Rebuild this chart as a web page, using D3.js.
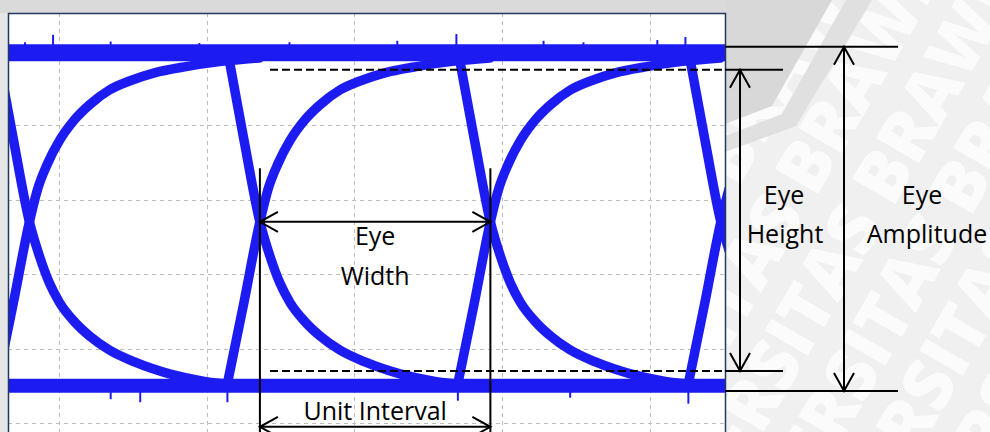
<!DOCTYPE html>
<html>
<head>
<meta charset="utf-8">
<script src="https://cdn.jsdelivr.net/npm/d3@7"></script>
<style>
  html, body { margin: 0; padding: 0; background: #fff; overflow: hidden; }
  svg { display: block; }
</style>
</head>
<body>
<svg id="chart" width="990" height="432"></svg>
<script>
// Eye diagram: time in picoseconds, amplitude in millivolts
const timeGrid = [0, 100, 200, 300, 400];
const voltGrid = [200, 100, 0, -100, -200, -300];
const timeDomain = [-34.5, 450.8];
const voltDomain = [250.3, -312];

const levelHigh = 197;
const levelLow = -250;
const crossings = [-20, 136, 292, 448];
const crossVolt = -30;

// Falling transition, offsets relative to the crossing point
const fallOffsets = [-21.7, -10.8, 0, 6.8, 13.5, 20.3, 30.5, 40.6, 54.1, 71.1, 94.8, 118.4, 142];
const fallVolts   = [197, 80, -30, -76, -112, -138, -164, -183, -202, -218, -234, -244, -249];

// Rising transition, offsets relative to the crossing point
const riseOffsets = [-22.3, -11, 0, 5.4, 12.2, 20.3, 30.5, 40.6, 54.1, 67.7, 84.6, 104.9, 128.6, 155.7];
const riseVolts   = [-250, -140, -30, 13, 48, 79, 107, 127, 147, 159, 170, 178, 185, 190];

// Noise spikes on the two logic levels [time, peak]
const highSpikes = [[-23, 211], [-4, 221], [35, 212], [95, 210], [156, 211], [229, 213],
                    [269, 222], [328, 213], [355, 211], [405, 214], [424, 218]];
const lowSpikes  = [[35, -268], [55, -272], [114, -272], [270, -270], [346, -266], [426, -274]];

// Measurement levels
const eyeTop = 174, eyeBottom = -230;
const ampTop = 205, ampBottom = -257;
const unitIntervalVolt = -305;
const markerTopVolt = 42;

const labelFont = "'Open Sans', 'DejaVu Sans', sans-serif";

const svg = d3.select("#chart");
const W = 990, H = 432;
const plot = { left: 8, top: 13, right: 725, bottom: 440 };

const x = d3.scaleLinear().domain(timeDomain).range([plot.left, plot.right]);
const y = d3.scaleLinear().domain(voltDomain).range([plot.top, 432]);

const defs = svg.append("defs");
defs.append("clipPath").attr("id", "plotClip")
  .append("rect")
  .attr("x", plot.left).attr("y", plot.top)
  .attr("width", plot.right - plot.left).attr("height", plot.bottom - plot.top);
const outside = defs.append("clipPath").attr("id", "outsideClip");
outside.append("rect").attr("x", plot.right).attr("y", 0).attr("width", W - plot.right).attr("height", H);
outside.append("rect").attr("x", 0).attr("y", plot.top).attr("width", plot.left).attr("height", H);
defs.append("filter").attr("id", "soft")
  .append("feGaussianBlur").attr("stdDeviation", 0.6);

// ---- page background and watermark ----
svg.append("rect").attr("x", 0).attr("y", 0).attr("width", W).attr("height", plot.top).attr("fill", "#dadada");
const wm = svg.append("g").attr("clip-path", "url(#outsideClip)");
wm.append("rect").attr("x", plot.right).attr("y", 0).attr("width", W - plot.right).attr("height", H).attr("fill", "#f0f0f0");
wm.append("rect").attr("x", 0).attr("y", 0).attr("width", plot.left).attr("height", H).attr("fill", "#e6e6e6");
const wmText = wm.append("g").attr("transform", "translate(840,300) rotate(-60)");
d3.range(-3, 5).forEach(i => {
  wmText.append("text")
    .attr("x", -380 + i * 30).attr("y", i * 72)
    .attr("font-family", labelFont).attr("font-weight", 800).attr("font-size", 70)
    .attr("fill", "#fbfbfb")
    .text("UNIVERSITAS BRAWIJAYA UNIVERSITAS");
});
wm.append("polygon").attr("points", "725,0 832,0 772,106 725,124").attr("fill", "#d8d8d8");
wm.append("polygon").attr("points", "846,0 872,0 796,126 725,152 725,136 782,114").attr("fill", "#e0e0e0");

// ---- plot area ----
svg.append("rect")
  .attr("x", plot.left).attr("y", plot.top)
  .attr("width", plot.right - plot.left).attr("height", plot.bottom - plot.top)
  .attr("fill", "#ffffff");

const grid = svg.append("g").attr("clip-path", "url(#plotClip)")
  .attr("stroke", "#bdbdbd").attr("stroke-width", 1).attr("stroke-dasharray", "4,4");
grid.selectAll("line.v").data(timeGrid).join("line").attr("class", "v")
  .attr("x1", d => Math.round(x(d)) + 0.5).attr("x2", d => Math.round(x(d)) + 0.5)
  .attr("y1", plot.top).attr("y2", plot.bottom);
grid.selectAll("line.h").data(voltGrid).join("line").attr("class", "h")
  .attr("y1", d => Math.round(y(d)) + 0.5).attr("y2", d => Math.round(y(d)) + 0.5)
  .attr("x1", plot.left).attr("x2", plot.right);

// ---- traces ----
const traceColor = "#1e1ef2";
const traces = svg.append("g").attr("clip-path", "url(#plotClip)").attr("filter", "url(#soft)");
const line = d3.line().x(d => x(d[0])).y(d => y(d[1])).curve(d3.curveMonotoneX);

// logic levels
traces.append("line")
  .attr("x1", plot.left).attr("x2", plot.right)
  .attr("y1", y(levelHigh)).attr("y2", y(levelHigh))
  .attr("stroke", traceColor).attr("stroke-width", 17);
traces.append("line")
  .attr("x1", plot.left).attr("x2", plot.right)
  .attr("y1", y(levelLow)).attr("y2", y(levelLow))
  .attr("stroke", traceColor).attr("stroke-width", 14);

traces.selectAll("line.hs").data(highSpikes).join("line").attr("class", "hs")
  .attr("x1", d => x(d[0])).attr("x2", d => x(d[0]))
  .attr("y1", y(levelHigh)).attr("y2", d => y(d[1]))
  .attr("stroke", traceColor).attr("stroke-width", 2);
traces.selectAll("line.ls").data(lowSpikes).join("line").attr("class", "ls")
  .attr("x1", d => x(d[0])).attr("x2", d => x(d[0]))
  .attr("y1", y(levelLow)).attr("y2", d => y(d[1]))
  .attr("stroke", traceColor).attr("stroke-width", 2);

// transitions around every crossing
crossings.forEach(c => {
  traces.append("path")
    .attr("d", line(fallOffsets.map((o, i) => [c + o, fallVolts[i]])))
    .attr("fill", "none").attr("stroke", traceColor).attr("stroke-width", 9.5)
    .attr("stroke-linecap", "round");
  traces.append("path")
    .attr("d", line(riseOffsets.map((o, i) => [c + o, riseVolts[i]])))
    .attr("fill", "none").attr("stroke", traceColor).attr("stroke-width", 9.5)
    .attr("stroke-linecap", "round");
});

// plot frame
svg.append("rect")
  .attr("x", plot.left + 0.5).attr("y", plot.top + 0.5)
  .attr("width", plot.right - plot.left).attr("height", plot.bottom)
  .attr("fill", "none").attr("stroke", "#1f3a60").attr("stroke-width", 1.5);

// ---- measurement annotations ----
const ann = svg.append("g").attr("stroke", "#000").attr("stroke-width", 2).attr("fill", "none");

// eye height threshold lines
[eyeTop, eyeBottom].forEach(v => {
  ann.append("line")
    .attr("x1", 270).attr("x2", plot.right)
    .attr("y1", y(v)).attr("y2", y(v))
    .attr("stroke-dasharray", "8,4");
  ann.append("line")
    .attr("x1", plot.right).attr("x2", 783)
    .attr("y1", y(v)).attr("y2", y(v));
});
// eye amplitude lines
[ampTop, ampBottom].forEach(v => {
  ann.append("line")
    .attr("x1", plot.right).attr("x2", 898)
    .attr("y1", y(v)).attr("y2", y(v));
});

function vArrow(px, v1, v2) {
  const y1 = y(v1), y2 = y(v2);
  ann.append("line").attr("x1", px).attr("x2", px).attr("y1", y1).attr("y2", y2);
  ann.append("polyline").attr("points", `${px - 10},${y1 + 18} ${px},${y1} ${px + 10},${y1 + 18}`);
  ann.append("polyline").attr("points", `${px - 10},${y2 - 18} ${px},${y2} ${px + 10},${y2 - 18}`);
}
function hArrow(t1, t2, v) {
  const x1 = x(t1), x2 = x(t2), py = y(v);
  ann.append("line").attr("x1", x1).attr("x2", x2).attr("y1", py).attr("y2", py);
  ann.append("polyline").attr("points", `${x1 + 18},${py - 10} ${x1},${py} ${x1 + 18},${py + 10}`);
  ann.append("polyline").attr("points", `${x2 - 18},${py - 10} ${x2},${py} ${x2 - 18},${py + 10}`);
}

vArrow(740, eyeTop, eyeBottom);
vArrow(844, ampTop, ampBottom);

// unit interval markers
[crossings[1], crossings[2]].forEach(c => {
  ann.append("line")
    .attr("x1", x(c)).attr("x2", x(c))
    .attr("y1", y(markerTopVolt)).attr("y2", H);
});
hArrow(crossings[1], crossings[2], crossVolt);
hArrow(crossings[1], crossings[2], unitIntervalVolt);

// ---- labels ----
const labels = svg.append("g")
  .attr("font-family", labelFont).attr("font-size", 25)
  .attr("fill", "#000").attr("text-anchor", "middle");
const midUI = (crossings[1] + crossings[2]) / 2;
labels.append("text").attr("x", x(midUI)).attr("y", 245).text("Eye");
labels.append("text").attr("x", x(midUI)).attr("y", 285).text("Width");
labels.append("text").attr("x", x(midUI)).attr("y", 420).text("Unit Interval");
labels.append("text").attr("x", 784).attr("y", 204).text("Eye");
labels.append("text").attr("x", 785).attr("y", 243).text("Height");
labels.append("text").attr("x", 922).attr("y", 204).text("Eye");
labels.append("text").attr("x", 927).attr("y", 243).text("Amplitude");
</script>
</body>
</html>
